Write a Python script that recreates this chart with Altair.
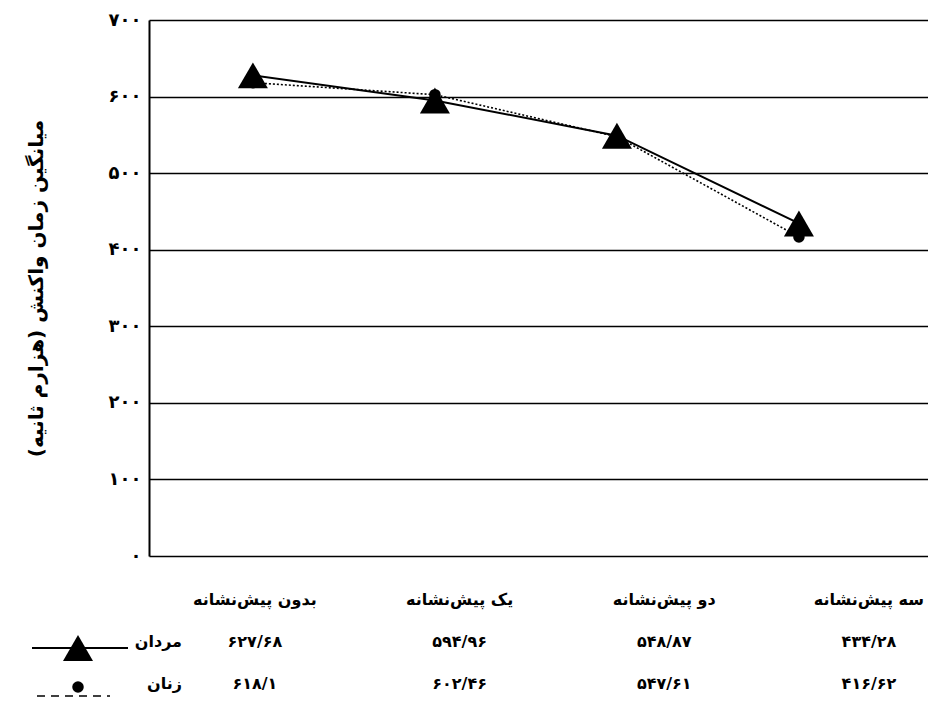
import json
import altair as alt
import pandas as pd

# ---------------- data ----------------
categories = ["بدون پیش‌نشانه", "یک پیش‌نشانه", "دو پیش‌نشانه", "سه پیش‌نشانه"]
series_names = ["مردان", "زنان"]
men = [627.68, 594.96, 548.87, 434.28]
women = [618.1, 602.46, 547.61, 416.62]
y_ticks = [0, 100, 200, 300, 400, 500, 600, 700]
y_title = "میانگین زمان واکنش (هزارم ثانیه)"

FA = str.maketrans("0123456789.", "۰۱۲۳۴۵۶۷۸۹/")


def fa(v):
    return str(v).translate(FA)


y_tick_labels = [fa(t) for t in y_ticks]

rows = []
for name, vals in zip(series_names, [men, women]):
    for c, v in zip(categories, vals):
        rows.append({"category": c, "series": name, "value": v, "label": fa(v)})
df = pd.DataFrame(rows)

table_rows = [{"col": c, "row": "header", "text": c} for c in categories]
table_rows += [{"col": r["category"], "row": r["series"], "text": r["label"]} for r in rows]
table_df = pd.DataFrame(table_rows)
legend_df = pd.DataFrame({"series": series_names, "row": series_names})

FONT = "DejaVu Sans"
row_domain = ["header"] + series_names

# ---------------- main plot ----------------
x_main = alt.X("category:N", sort=categories, axis=None,
               scale=alt.Scale(type="point", domain=categories, padding=0.64, align=0.446))
label_expr = (f"{json.dumps(y_tick_labels, ensure_ascii=False)}"
              f"[indexof({json.dumps(y_ticks)}, datum.value)]")
y_main = alt.Y("value:Q",
               scale=alt.Scale(domain=[0, 700], nice=False),
               axis=alt.Axis(values=y_ticks, labelExpr=label_expr, grid=True,
                             gridColor="black", gridWidth=1.6, gridOpacity=1,
                             domainColor="black", domainWidth=2, ticks=False,
                             labelFont=FONT, labelFontSize=18, labelFontWeight="bold",
                             labelColor="black", labelPadding=8,
                             title=y_title + "\u200f", titleFont=FONT, titleFontSize=20,
                             titleFontWeight="bold", titleColor="black",
                             titleX=-103, titleY=268))

base = alt.Chart(df).encode(x=x_main, y=y_main)
women_line = base.transform_filter(alt.datum.series == series_names[1]).mark_line(
    color="black", strokeWidth=1.6, strokeDash=[2, 2])
men_line = base.transform_filter(alt.datum.series == series_names[0]).mark_line(
    color="black", strokeWidth=2)
women_pts = base.transform_filter(alt.datum.series == series_names[1]).mark_point(
    shape="circle", filled=True, size=133, color="black", opacity=1)
men_pts = base.transform_filter(alt.datum.series == series_names[0]).mark_point(
    shape="triangle-up", filled=True, size=900, color="black", opacity=1)
main = alt.layer(women_line, men_line, women_pts, men_pts)

# ---------------- data table ----------------
y_rows = alt.Y("row:N", axis=None,
               scale=alt.Scale(type="point", domain=row_domain, range=[580, 664], padding=0))
table = alt.Chart(table_df).mark_text(
    font=FONT, fontSize=16, fontWeight="bold", color="black", baseline="middle"
).encode(
    x=alt.X("col:N", axis=None,
            scale=alt.Scale(type="point", domain=categories, padding=0.403, align=0.642)),
    y=y_rows,
    text="text:N",
)

# ---------------- legend keys (row headers) ----------------
leg_scale = alt.Scale(type="point", domain=["key", "series"], range=[-71, 33], padding=0)
leg_base = alt.Chart(legend_df)
leg_text = leg_base.mark_text(font=FONT, fontSize=16, fontWeight="bold", color="black",
                              align="right", baseline="middle").encode(
    x=alt.X(datum="series", type="nominal", scale=leg_scale, axis=None),
    y=y_rows, text="series:N")
key_x = alt.X(datum="key", type="nominal", scale=leg_scale, axis=None)
men_key_line = leg_base.transform_filter(alt.datum.series == series_names[0]).mark_rule(
    color="black", strokeWidth=2, xOffset=-46, x2Offset=50, yOffset=6).encode(
    x=key_x, x2=alt.X2(datum="key"), y=y_rows)
women_key_line = leg_base.transform_filter(alt.datum.series == series_names[1]).mark_rule(
    color="black", strokeWidth=1.6, strokeDash=[8, 6], xOffset=-41, x2Offset=32, yOffset=12).encode(
    x=key_x, x2=alt.X2(datum="key"), y=y_rows)
men_key_pt = leg_base.transform_filter(alt.datum.series == series_names[0]).mark_point(
    shape="triangle-up", filled=True, size=900, color="black", opacity=1, yOffset=6).encode(
    x=key_x, y=y_rows)
women_key_pt = leg_base.transform_filter(alt.datum.series == series_names[1]).mark_point(
    shape="circle", filled=True, size=133, color="black", opacity=1, yOffset=3).encode(
    x=key_x, y=y_rows)
legend_layer = alt.layer(men_key_line, women_key_line, men_key_pt, women_key_pt, leg_text)

chart = alt.layer(main, table, legend_layer).resolve_scale(
    x="independent", y="independent"
).properties(
    width=779, height=536,
    autosize=alt.AutoSizeParams(type="none"),
    padding={"left": 141, "top": 12, "right": 0, "bottom": 147},
    background="white",
).configure_view(stroke=None)

chart.save("out.html", embed_options={"renderer": "svg", "actions": False})
